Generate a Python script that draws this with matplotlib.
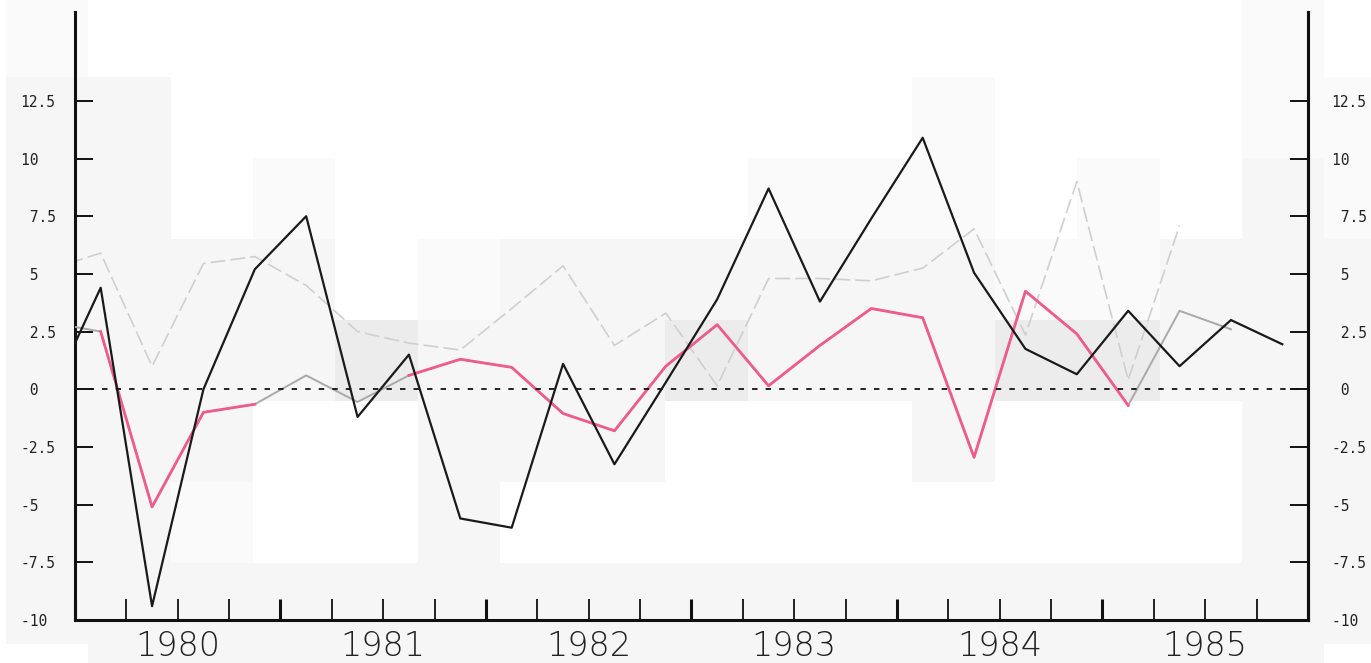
import numpy as np
import matplotlib
matplotlib.use("Agg")
import matplotlib.pyplot as plt
from matplotlib.ticker import NullFormatter

plt.rcParams['axes.unicode_minus'] = False

# ---------------- data ----------------
quarters = ["1979Q4",
            "1980Q1", "1980Q2", "1980Q3", "1980Q4",
            "1981Q1", "1981Q2", "1981Q3", "1981Q4",
            "1982Q1", "1982Q2", "1982Q3", "1982Q4",
            "1983Q1", "1983Q2", "1983Q3", "1983Q4",
            "1984Q1", "1984Q2", "1984Q3", "1984Q4",
            "1985Q1", "1985Q2", "1985Q3", "1985Q4"]

series_black = [-0.4, 4.4, -9.4, 0.0, 5.2, 7.5, -1.2, 1.5, -5.6, -6.0, 1.1, -3.25,
                0.3, 3.9, 8.7, 3.8, 7.4, 10.9, 5.05, 1.75, 0.65, 3.4, 1.0, 3.0, 1.95]

series_gray = [2.9, 2.5, -5.1, -1.0, -0.65, 0.6, -0.55, 0.6, 1.3, 0.95, -1.05, -1.8,
               1.0, 2.8, 0.15, 1.9, 3.5, 3.1, -2.95, 4.25, 2.4, -0.7, 3.4, 2.6, np.nan]

series_pink = [np.nan, 2.5, -5.1, -1.0, -0.65, np.nan, np.nan, 0.6, 1.3, 0.95, -1.05, -1.8,
               1.0, 2.8, 0.15, 1.9, 3.5, 3.1, -2.95, 4.25, 2.4, -0.7, np.nan, np.nan, np.nan]

series_light = [5.2, 5.9, 1.0, 5.45, 5.75, 4.5, 2.5, 2.0, 1.7, 3.5, 5.35, 1.9,
                3.3, 0.15, 4.8, 4.8, 4.7, 5.25, 6.95, 2.35, 9.0, 0.4, 7.1, np.nan, np.nan]

years = [1980, 1981, 1982, 1983, 1984, 1985]
ytick_values = [12.5, 10, 7.5, 5, 2.5, 0, -2.5, -5, -7.5, -10]
ytick_labels = ["12.5", "10  ", " 7.5", " 5  ", " 2.5", " 0  ", "-2.5", "-5  ", "-7.5", "-10 "]

# background shading blocks (0 white .. 3 darker grey), decorative
bg_levels = [
    [1, 0, 0, 0, 0, 0, 0, 0, 0, 0, 0, 0, 0, 0, 0, 1, 0],
    [2, 2, 0, 0, 0, 0, 0, 0, 0, 0, 0, 1, 0, 0, 0, 1, 1],
    [2, 2, 0, 1, 0, 0, 0, 0, 0, 1, 1, 1, 0, 1, 0, 2, 1],
    [2, 2, 2, 2, 0, 1, 2, 2, 2, 2, 2, 2, 1, 1, 2, 2, 2],
    [2, 2, 2, 2, 3, 2, 2, 2, 3, 2, 2, 2, 3, 3, 2, 2, 2],
    [2, 2, 2, 0, 0, 2, 2, 2, 0, 0, 0, 2, 0, 0, 0, 2, 2],
    [2, 2, 1, 0, 0, 2, 0, 0, 0, 0, 0, 0, 0, 0, 0, 2, 2],
    [2, 2, 2, 2, 2, 2, 2, 2, 2, 2, 2, 2, 2, 2, 2, 2, 2],
    [0, 2, 2, 2, 2, 2, 2, 2, 2, 2, 2, 2, 2, 2, 2, 2, 0],
]
shade_of_level = [1.0, 0.98, 0.962, 0.925]

# ---------------- figure ----------------
W, H = 1371, 663
fig = plt.figure(figsize=(W / 100, H / 100), dpi=100, facecolor="white")

bg = fig.add_axes([0, 0, 1, 1], zorder=-5)
bg_img = np.array([[shade_of_level[v] for v in row] for row in bg_levels])
cw, ch = 82.4, 81.0
x0, y0 = 6.0, -4.0
bg.imshow(bg_img, cmap="gray", vmin=0, vmax=1, interpolation="nearest",
          extent=(x0, x0 + cw * bg_img.shape[1], y0 + ch * bg_img.shape[0], y0), aspect="auto")
bg.set_xlim(0, W)
bg.set_ylim(H, 0)
bg.axis("off")

ax = fig.add_axes([75 / W, (H - 620) / H, (1308 - 75) / W, (620 - 12) / H])
ax.set_facecolor("none")

def qpos(q):
    return int(q[:4]) + (int(q[-1]) - 0.5) / 4.0

x = np.array([qpos(q) for q in quarters])

ax.plot(x, series_light, color="#cfcfcf", lw=1.2, ls=(0, (9, 3)), zorder=2)
ax.plot(x, series_gray, color="#a9a9a9", lw=1.4, zorder=3)
ax.plot(x, series_pink, color="#ef5b8c", lw=2.0, zorder=4)
ax.axhline(0, color="#111111", lw=1.3, ls=(0, (3, 4.5)), zorder=5)
ax.plot(x, series_black, color="#1a1a1a", lw=1.6, zorder=6)

ax.set_xlim(years[0], years[-1] + 1)
ylim = (-10, 16.35)
ax.set_ylim(*ylim)

# spines
ax.spines["top"].set_visible(False)
for s in ["left", "right", "bottom"]:
    ax.spines[s].set_linewidth(2.2)
    ax.spines[s].set_color("#111111")

# left y axis
ax.set_yticks(ytick_values)
ax.set_yticklabels(ytick_labels, family="DejaVu Sans Mono", fontsize=10.5, color="#222222")
ax.tick_params(axis="y", which="major", direction="in", length=13, width=1.4,
               left=True, right=False, labelleft=True, labelright=False, pad=14,
               colors="#111111", labelcolor="#222222")

# right y axis (same scale)
ax2 = ax.twinx()
ax2.set_ylim(*ylim)
ax2.set_facecolor("none")
for s in ["top", "left", "bottom"]:
    ax2.spines[s].set_visible(False)
ax2.spines["right"].set_linewidth(2.2)
ax2.spines["right"].set_color("#111111")
ax2.set_yticks(ytick_values)
ax2.set_yticklabels(ytick_labels, family="DejaVu Sans Mono", fontsize=10.5, color="#222222")
ax2.tick_params(axis="y", which="major", direction="in", length=13, width=1.4,
                pad=17, colors="#111111", labelcolor="#222222")

# x ticks: year boundaries major (thicker), quarters minor, year labels at mid-year
ax.set_xticks([y for y in years] + [years[-1] + 1])
ax.xaxis.set_major_formatter(NullFormatter())
minor_pos = [y + f for y in years for f in (0.25, 0.5, 0.75)]
minor_lab = [str(y) if f == 0.5 else "" for y in years for f in (0.25, 0.5, 0.75)]
ax.set_xticks(minor_pos, minor_lab, minor=True)
ax.tick_params(axis="x", which="major", direction="in", length=15, width=2.2, colors="#111111")
ax.tick_params(axis="x", which="minor", direction="in", length=15, width=1.3, colors="#111111",
               pad=7, labelsize=24, labelcolor="#222222")
for lab in ax.get_xticklabels(minor=True):
    lab.set_fontfamily("DejaVu Sans")
    lab.set_fontweight("light")

fig.savefig("out.png", dpi=100, facecolor="white")
